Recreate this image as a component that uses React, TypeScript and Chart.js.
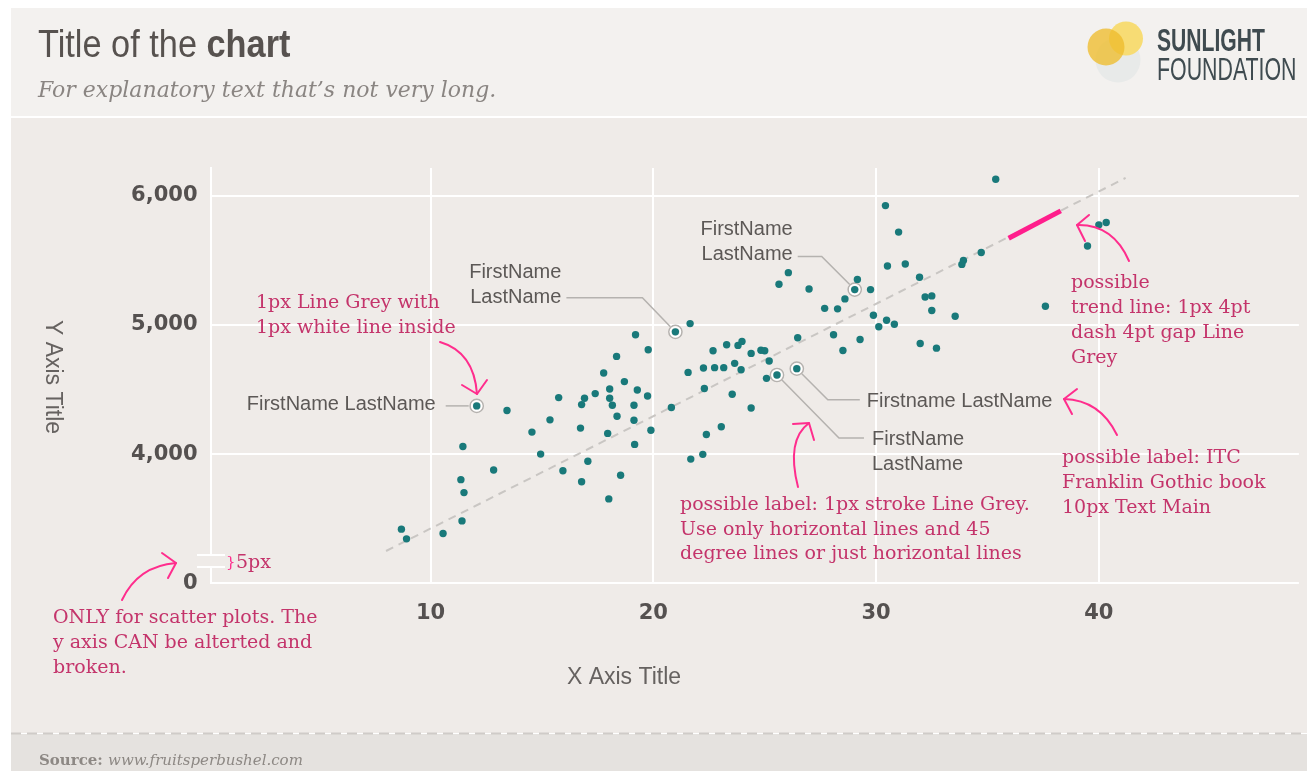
import React, { useEffect, useRef } from 'react';
import { Chart, registerables } from 'chart.js';

Chart.register(...registerables);

// ---------------- DATA ----------------
const xValues = [
  19.2, 19.77, 18.35, 17.77, 18.7, 18.04, 19.28, 19.74, 17.39, 16.91,
  18.04, 15.75, 16.78, 18.16, 19.13, 12.07, 13.43, 18.37, 15.36, 19.13,
  16.73, 14.55, 17.95, 19.89, 19.16, 11.45, 14.94, 17.06, 12.83, 15.94,
  18.53, 11.36, 16.78, 11.5, 18.0, 11.41, 8.69, 8.92, 10.56, 20.99,
  21.65, 22.68, 23.29, 23.8, 23.98, 24.39, 24.83, 25.0, 25.2, 26.48,
  27.69, 28.09, 28.27, 21.56, 22.25, 22.75, 23.16, 23.65, 23.94, 25.08,
  25.55, 26.44, 22.29, 23.54, 24.39, 20.81, 23.05, 22.38, 22.22, 21.68,
  35.37, 30.42, 31.01, 40.0, 40.33, 39.49, 30.51, 31.31, 31.95, 34.72,
  33.92, 33.85, 26.06, 25.64, 26.99, 29.16, 29.04, 29.75, 28.6, 32.2,
  32.5, 32.5, 33.55, 29.88, 37.6, 29.28, 30.47, 30.12, 30.82, 31.98,
  32.71, 28.51,
];
const yValues = [
  4923, 4808, 4756, 4627, 4561, 4504, 4496, 4450, 4468, 4432,
  4432, 4437, 4383, 4378, 4378, 4373, 4337, 4293, 4265, 4262,
  4201, 4170, 4160, 4185, 4075, 4059, 4000, 3944, 3877, 3871,
  3836, 3802, 3786, 3702, 3653, 3483, 3419, 3344, 3385, 4946,
  5010, 4800, 4846, 4841, 4872, 4779, 4804, 4800, 4720, 4900,
  5128, 4923, 5124, 4632, 4666, 4669, 4669, 4702, 4653, 4586,
  4612, 4661, 4507, 4463, 4357, 4360, 4211, 4152, 3998, 3961,
  6127, 5923, 5718, 5774, 5792, 5610, 5455, 5471, 5368, 5560,
  5499, 5468, 5404, 5314, 5278, 5352, 5273, 5273, 5201, 5216,
  5224, 5111, 5067, 5074, 5144, 4887, 5036, 4985, 5005, 4856,
  4820, 4802,
];
// labelled points (indices into the arrays above) and their names
const calloutIdx = [15, 39, 86, 61, 60];
const calloutNames = [
  ['FirstName LastName'],
  ['FirstName', 'LastName'],
  ['FirstName', 'LastName'],
  ['Firstname LastName'],
  ['FirstName', 'LastName'],
];
const trendX = [8.0, 41.2];
const trendY = [3250, 6137];
const trendHighlightX = [35.95, 38.29];
const trendHighlightY = [5670, 5882];
const xTicks = [10, 20, 30, 40];
const yTicks = [3000, 4000, 5000, 6000];
const yTickLabels = ['0', '4,000', '5,000', '6,000'];
const X_MIN = 0.12;
const X_MAX = 48.98;
const Y_MIN = 3000;
const Y_MAX = 6214;

// ---------------- STYLES / LAYOUT ----------------
const W = 1307;
const H = 771;
const TEAL = '#19797a';
const PINK_TEXT = '#c4346b';
const PINK_LINE = '#ff2d8d';
const LEADER = '#b5b2af';
const LABEL_FONT = '20px "Liberation Sans", Arial, sans-serif';
const NOTE_FONT = '19px "DejaVu Serif", serif';

// leader paths (offsets from point pixel) and label text placement
const calloutStyles = [
  { path: [[-8, 0], [-31, 0]], tx: -41, ty: [4.3], align: 'right' },
  { path: [[-5, -5], [-33, -34], [-109, -34]], tx: -114, ty: [-54.3, -29.3], align: 'right' },
  { path: [[-5, -5], [-33, -33], [-57, -33]], tx: -62, ty: [-55, -30], align: 'right' },
  { path: [[5, 5], [31, 31], [63, 31]], tx: 70, ty: [38], align: 'left' },
  { path: [[5, 5], [62, 63], [87, 63]], tx: 95, ty: [70.3, 95], align: 'left' },
];

const notes = [
  { x: 256, y: [308, 333], lines: ['1px Line Grey with', '1px white line inside'] },
  { x: 53, y: [623, 648, 673], lines: ['ONLY for scatter plots. The', 'y axis CAN be alterted and', 'broken.'] },
  { x: 680, y: [510, 535, 559], lines: ['possible label: 1px stroke Line Grey.', 'Use only horizontal lines and 45', 'degree lines or just horizontal lines'] },
  { x: 1071, y: [288, 313, 338, 363], lines: ['possible', 'trend line: 1px 4pt', 'dash 4pt gap Line', 'Grey'] },
  { x: 1062, y: [463, 488, 513], lines: ['possible label: ITC', 'Franklin Gothic book', '10px Text Main'] },
  { x: 236, y: [568], lines: ['5px'] },
];

const arrows = [
  { s: [440, 342], c: [474, 352], e: [477, 394], w1: [462, 385], w2: [487, 380] },
  { s: [122, 600], c: [138, 566], e: [176, 563], w1: [162, 553], w2: [168, 578] },
  { s: [798, 487], c: [786, 440], e: [809, 423], w1: [793, 424], w2: [814, 440] },
  { s: [1129, 261], c: [1113, 224], e: [1077, 225], w1: [1089, 215], w2: [1085, 241] },
  { s: [1117, 435], c: [1100, 400], e: [1064, 399], w1: [1077, 389], w2: [1072, 414] },
];

const backgroundPlugin = {
  id: 'bgPanels',
  beforeDraw(chart: any) {
    const ctx = chart.ctx as CanvasRenderingContext2D;
    ctx.save();
    ctx.fillStyle = '#ffffff';
    ctx.fillRect(0, 0, W, H);
    ctx.fillStyle = '#f3f1ef';
    ctx.fillRect(11, 8, W - 11, 108);
    ctx.fillStyle = '#efebe8';
    ctx.fillRect(11, 118, W - 11, 615);
    ctx.fillStyle = '#e5e2df';
    ctx.fillRect(11, 734, W - 11, H - 734);
    ctx.strokeStyle = '#cfcbc8';
    ctx.lineWidth = 2;
    ctx.setLineDash([10, 6]);
    ctx.beginPath();
    ctx.moveTo(11, 733.5);
    ctx.lineTo(W, 733.5);
    ctx.stroke();
    ctx.setLineDash([]);

    // header title
    ctx.fillStyle = '#57524f';
    ctx.textBaseline = 'alphabetic';
    ctx.textAlign = 'left';
    ctx.save();
    ctx.translate(38, 57);
    ctx.scale(0.88, 1);
    ctx.font = '39px "Liberation Sans", Arial, sans-serif';
    const w1 = ctx.measureText('Title of the ').width;
    ctx.fillText('Title of the ', 0, 0);
    ctx.font = 'bold 39px "Liberation Sans", Arial, sans-serif';
    ctx.fillText('chart', w1, 0);
    ctx.restore();

    ctx.fillStyle = '#8a8582';
    ctx.font = 'italic 22px "DejaVu Serif", serif';
    ctx.fillText('For explanatory text that\u2019s not very long.', 38, 97);

    // logo
    ctx.fillStyle = '#e8eae9';
    ctx.beginPath();
    ctx.arc(1118, 60, 22.5, 0, Math.PI * 2);
    ctx.fill();
    ctx.fillStyle = 'rgba(247, 218, 105, 0.92)';
    ctx.beginPath();
    ctx.arc(1126, 38.5, 17, 0, Math.PI * 2);
    ctx.fill();
    ctx.fillStyle = 'rgba(238, 188, 45, 0.78)';
    ctx.beginPath();
    ctx.arc(1106, 47, 18.5, 0, Math.PI * 2);
    ctx.fill();
    ctx.fillStyle = '#3f4b50';
    ctx.save();
    ctx.translate(1157, 51);
    ctx.scale(0.66, 1);
    ctx.font = 'bold 32px "Liberation Sans", Arial, sans-serif';
    ctx.fillText('SUNLIGHT', 0, 0);
    ctx.restore();
    ctx.save();
    ctx.translate(1157, 80);
    ctx.scale(0.667, 1);
    ctx.font = '32px "Liberation Sans", Arial, sans-serif';
    ctx.fillText('FOUNDATION', 0, 0);
    ctx.restore();

    // footer
    ctx.fillStyle = '#8d8884';
    ctx.font = 'bold 15px "DejaVu Serif", serif';
    ctx.fillText('Source:', 39, 765);
    const sw = ctx.measureText('Source: ').width;
    ctx.font = 'italic 15px "DejaVu Serif", serif';
    ctx.fillText('www.fruitsperbushel.com', 39 + sw, 765);

    // axis titles
    ctx.fillStyle = '#666260';
    ctx.font = '23px "Liberation Sans", Arial, sans-serif';
    ctx.textAlign = 'center';
    ctx.textBaseline = 'middle';
    ctx.fillText('X Axis Title', 624, 678);
    ctx.save();
    ctx.translate(52, 377);
    ctx.rotate(Math.PI / 2);
    ctx.fillText('Y Axis Title', 0, 0);
    ctx.restore();
    ctx.restore();
  },
  afterDraw(chart: any) {
    const ctx = chart.ctx as CanvasRenderingContext2D;
    const xs = chart.scales.x;
    const ys = chart.scales.y;
    ctx.save();

    // axis break
    ctx.fillStyle = '#efebe8';
    ctx.fillRect(chart.chartArea.left - 3, 556, 6, 10);
    ctx.strokeStyle = '#ffffff';
    ctx.lineWidth = 2;
    ctx.beginPath();
    ctx.moveTo(197, 555);
    ctx.lineTo(225, 555);
    ctx.moveTo(197, 567);
    ctx.lineTo(225, 567);
    ctx.stroke();

    // callouts
    calloutIdx.forEach((idx, k) => {
      const px = xs.getPixelForValue(xValues[idx]);
      const py = ys.getPixelForValue(yValues[idx]);
      const st = calloutStyles[k];
      ctx.strokeStyle = LEADER;
      ctx.lineWidth = 1.5;
      ctx.beginPath();
      st.path.forEach((p, i) => {
        if (i === 0) ctx.moveTo(px + p[0], py + p[1]);
        else ctx.lineTo(px + p[0], py + p[1]);
      });
      ctx.stroke();
      ctx.fillStyle = '#5c5856';
      ctx.font = LABEL_FONT;
      ctx.textAlign = st.align as CanvasTextAlign;
      ctx.textBaseline = 'alphabetic';
      calloutNames[k].forEach((line, i) => {
        ctx.fillText(line, px + st.tx, py + st.ty[i]);
      });
    });

    // notes
    ctx.fillStyle = PINK_TEXT;
    ctx.font = NOTE_FONT;
    ctx.textAlign = 'left';
    ctx.textBaseline = 'alphabetic';
    notes.forEach((n) => {
      n.lines.forEach((line, i) => ctx.fillText(line, n.x, n.y[i]));
    });
    ctx.fillStyle = PINK_LINE;
    ctx.font = '15px "DejaVu Serif", serif';
    ctx.fillText('}', 226, 567);

    ctx.strokeStyle = PINK_LINE;
    ctx.lineWidth = 2;
    ctx.lineCap = 'round';
    ctx.lineJoin = 'round';
    arrows.forEach((a) => {
      ctx.beginPath();
      ctx.moveTo(a.s[0], a.s[1]);
      ctx.quadraticCurveTo(a.c[0], a.c[1], a.e[0], a.e[1]);
      ctx.stroke();
      ctx.beginPath();
      ctx.moveTo(a.w1[0], a.w1[1]);
      ctx.lineTo(a.e[0], a.e[1]);
      ctx.lineTo(a.w2[0], a.w2[1]);
      ctx.stroke();
    });
    ctx.restore();
  },
};

export default function App() {
  const ref = useRef<HTMLCanvasElement>(null);
  useEffect(() => {
    const canvas = ref.current;
    if (!canvas) return;
    const points = xValues.map((x, i) => ({ x, y: yValues[i] }));
    const highlighted = calloutIdx.map((i) => ({ x: xValues[i], y: yValues[i] }));
    const chart = new Chart(canvas, {
      type: 'scatter',
      data: {
        datasets: [
          {
            data: points,
            order: 0,
            pointRadius: 3.7,
            pointBackgroundColor: TEAL,
            pointBorderWidth: 0,
            clip: false,
          },
          {
            data: highlighted,
            order: 1,
            pointRadius: 4.9,
            pointBackgroundColor: 'rgba(0,0,0,0)',
            pointBorderColor: '#ffffff',
            pointBorderWidth: 1.6,
            clip: false,
          },
          {
            data: highlighted,
            order: 2,
            pointRadius: 6.6,
            pointBackgroundColor: 'rgba(0,0,0,0)',
            pointBorderColor: '#b5b2af',
            pointBorderWidth: 1.5,
            clip: false,
          },
          {
            data: trendHighlightX.map((x, i) => ({ x, y: trendHighlightY[i] })),
            order: 3,
            showLine: true,
            borderColor: '#ff1e8c',
            borderWidth: 5,
            pointRadius: 0,
            clip: false,
          },
          {
            data: trendX.map((x, i) => ({ x, y: trendY[i] })),
            order: 4,
            showLine: true,
            borderColor: '#c9c6c3',
            borderWidth: 2,
            borderDash: [8, 6],
            pointRadius: 0,
            clip: false,
          },
        ],
      } as any,
      options: {
        responsive: false,
        animation: false,
        devicePixelRatio: 1,
        events: [],
        layout: { padding: { left: 110.5, top: 168, right: 4, bottom: 137.7 } },
        plugins: { legend: { display: false }, tooltip: { enabled: false }, title: { display: false } },
        scales: {
          x: {
            type: 'linear',
            min: X_MIN,
            max: X_MAX,
            afterBuildTicks: (s: any) => {
              s.ticks = xTicks.map((v) => ({ value: v }));
            },
            afterFit: (s: any) => {
              s.height = 50;
            },
            grid: { color: '#ffffff', lineWidth: 2, drawTicks: false },
            border: { display: false },
            ticks: {
              padding: 18,
              color: '#555150',
              font: { family: '"DejaVu Sans", sans-serif', size: 21, weight: 'bold' },
              callback: (v: any) => String(v),
            },
          },
          y: {
            type: 'linear',
            min: Y_MIN,
            max: Y_MAX,
            afterBuildTicks: (s: any) => {
              s.ticks = yTicks.map((v) => ({ value: v }));
            },
            afterFit: (s: any) => {
              s.width = 100;
            },
            grid: { color: '#ffffff', lineWidth: 2, drawTicks: false },
            border: { display: true, color: '#ffffff', width: 2 },
            ticks: {
              padding: 13,
              color: '#555150',
              font: { family: '"DejaVu Sans", sans-serif', size: 21, weight: 'bold' },
              callback: (v: any) => {
                const i = yTicks.indexOf(Number(v));
                return i >= 0 ? yTickLabels[i] : '';
              },
            },
          },
        },
      } as any,
      plugins: [backgroundPlugin],
    });
    return () => chart.destroy();
  }, []);
  return (
    <div style={{ position: 'absolute', left: 0, top: 0, width: W, height: H }}>
      <canvas ref={ref} width={W} height={H} style={{ display: 'block', width: W, height: H }} />
    </div>
  );
}
